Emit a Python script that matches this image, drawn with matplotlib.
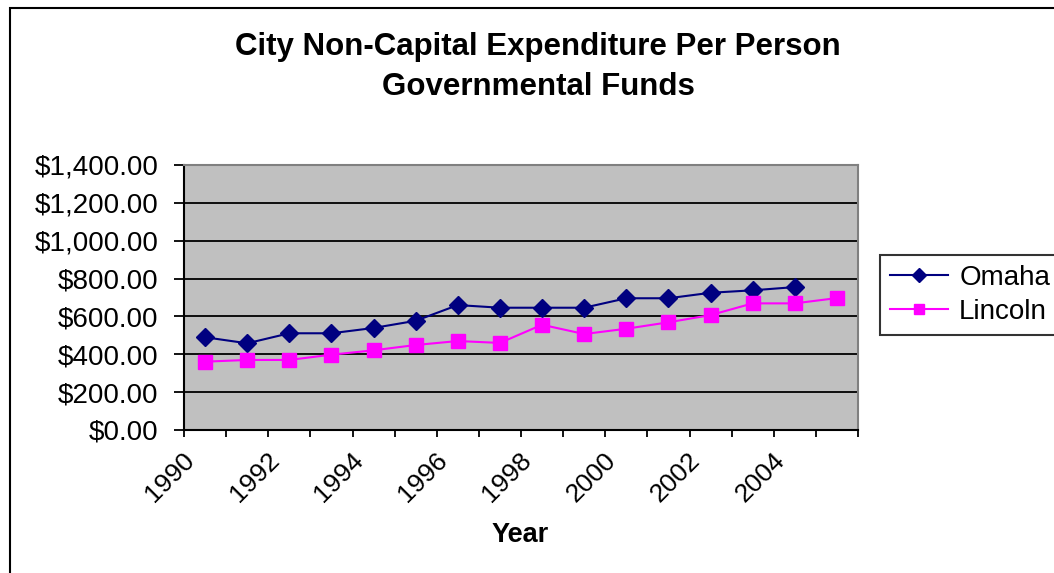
import matplotlib.pyplot as plt
import matplotlib.patches as patches
import matplotlib.transforms as mtransforms
from matplotlib.ticker import FuncFormatter, MultipleLocator

plt.rcParams['font.family'] = ['Liberation Sans', 'DejaVu Sans']

# data
years = list(range(1990, 2006))
omaha = [490, 458, 511, 511, 539, 577, 660, 646, 646, 646, 696, 696, 725, 738, 755]
lincoln = [361, 370, 370, 398, 421, 449, 470, 460, 556, 507, 535, 569, 607, 669, 669, 697]

fig = plt.figure(figsize=(10.54, 5.73), dpi=100)
W, H = 1054, 573

# outer chart border
fig.patches.append(patches.Rectangle((10 / W, -0.1), 1.2, 1 - 8 / H + 0.1,
                                     transform=fig.transFigure, fill=False,
                                     edgecolor='black', linewidth=1.5))

ax = fig.add_axes([184 / W, 1 - 430 / H, (858 - 184) / W, (430 - 165) / H])
ax.set_facecolor('#C0C0C0')

xo = [i + 0.5 for i in range(len(omaha))]
xl = [i + 0.5 for i in range(len(lincoln))]
ax.plot(xo, omaha, color='#000080', marker='D', markersize=9, linewidth=1.5,
        label='Omaha', zorder=3)
ax.plot(xl, lincoln, color='#FF00FF', marker='s', markersize=9.5, linewidth=1.5,
        label='Lincoln', zorder=3)

ax.set_xlim(0, len(years))
ax.set_ylim(0, 1400)
ax.yaxis.set_major_locator(MultipleLocator(200))
ax.yaxis.set_major_formatter(FuncFormatter(lambda v, p: '${:,.2f}'.format(v)))
ax.grid(axis='y', color='black', linewidth=1.3)
ax.set_axisbelow(True)

# ticks at category boundaries, labels every other year at category centres
ax.set_xticks(range(len(years) + 1))
ax.set_xticklabels([])
ax.set_xticks([i + 0.5 for i in range(0, len(years), 2)], minor=True)
ax.set_xticklabels([str(y) for y in years[::2]], minor=True, rotation=45,
                   ha='right', va='center', rotation_mode='anchor', fontsize=19)
ax.tick_params(axis='x', which='minor', length=0, pad=19)
ax.tick_params(axis='x', which='major', length=5, width=1.3, direction='out')
ax.tick_params(axis='y', length=7.5, width=1.3, labelsize=20, pad=11)

# nudge the rotated year labels left, as in the original
shift = mtransforms.ScaledTranslation(-0.14, 0, fig.dpi_scale_trans)
for lbl in ax.get_xticklabels(minor=True):
    lbl.set_transform(lbl.get_transform() + shift)

for s in ['left', 'bottom']:
    ax.spines[s].set_linewidth(1.5)
for s in ['top', 'right']:
    ax.spines[s].set_color('#808080')
    ax.spines[s].set_linewidth(1.5)

fig.text(538 / W, 1 - 47 / H, 'City Non-Capital Expenditure Per Person',
         ha='center', va='center', fontsize=22.5, fontweight='bold')
fig.text(538 / W, 1 - 87 / H, 'Governmental Funds',
         ha='center', va='center', fontsize=22.5, fontweight='bold')
fig.text(520 / W, 1 - 535 / H, 'Year', ha='center', va='center',
         fontsize=19.5, fontweight='bold')

leg = fig.legend(loc='upper left', bbox_to_anchor=(880 / W, 1 - 255 / H),
                 fontsize=20, frameon=True, fancybox=False, handlelength=2.1,
                 borderpad=0.35, labelspacing=0.3, handletextpad=0.4,
                 borderaxespad=0)
leg.get_frame().set_edgecolor('black')
leg.get_frame().set_linewidth(1.5)
for h in leg.legend_handles:
    h.set_markersize(7)

fig.savefig('out.png', dpi=100)
